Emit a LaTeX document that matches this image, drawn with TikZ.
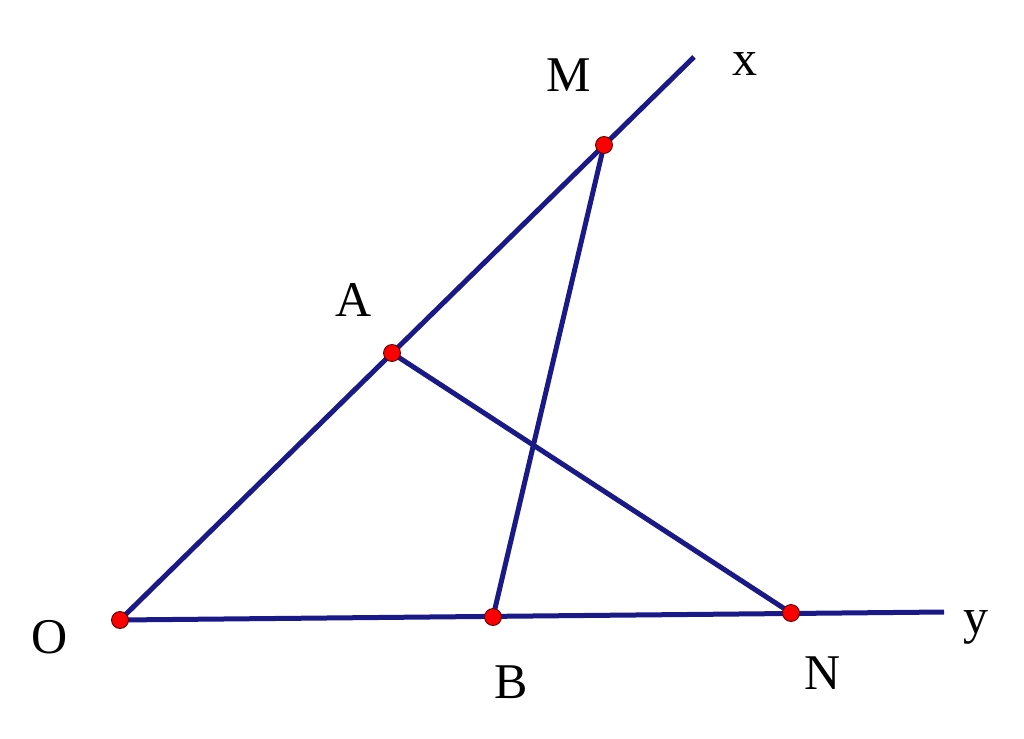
\documentclass[tikz,border=0pt]{standalone}
\usepackage{fontspec}
\setmainfont{Liberation Serif}
\definecolor{lineblue}{RGB}{25,25,135}
\definecolor{dotred}{RGB}{250,0,0}
\begin{document}
\begin{tikzpicture}[x=1pt,y=-1pt,
  seg/.style={draw=lineblue,line width=5pt},
  pt/.style={circle,fill=dotred,draw=black!70!red,line width=0.8pt,minimum size=17pt,inner sep=0pt},
  lbl/.style={font=\fontsize{50}{50}\selectfont,inner sep=0pt}]
\useasboundingbox (0,0) rectangle (1024,738);
\coordinate (O) at (120,620);
\coordinate (A) at (392,353);
\coordinate (M) at (604,145);
\coordinate (X) at (694,57);
\coordinate (B) at (493,617);
\coordinate (N) at (791,613);
\coordinate (Y) at (944,612);
\draw[seg] (O) -- (X);
\draw[seg] (O) -- (Y);
\draw[seg] (A) -- (N);
\draw[seg] (M) -- (B);
\foreach \p in {O,A,M,B,N} \node[pt] (d\p) at (\p) {};
\node[lbl] (lM) at (569,75) {M};
\node[lbl] (lx) at (745,64) {x};
\node[lbl] (lA) at (354,300) {A};
\node[lbl] (lO) at (50,637) {O};
\node[lbl] (lB) at (511,682) {B};
\node[lbl] (lN) at (823,673) {N};
\node[lbl] (ly) at (976,627) {y};
\end{tikzpicture}
\end{document}
